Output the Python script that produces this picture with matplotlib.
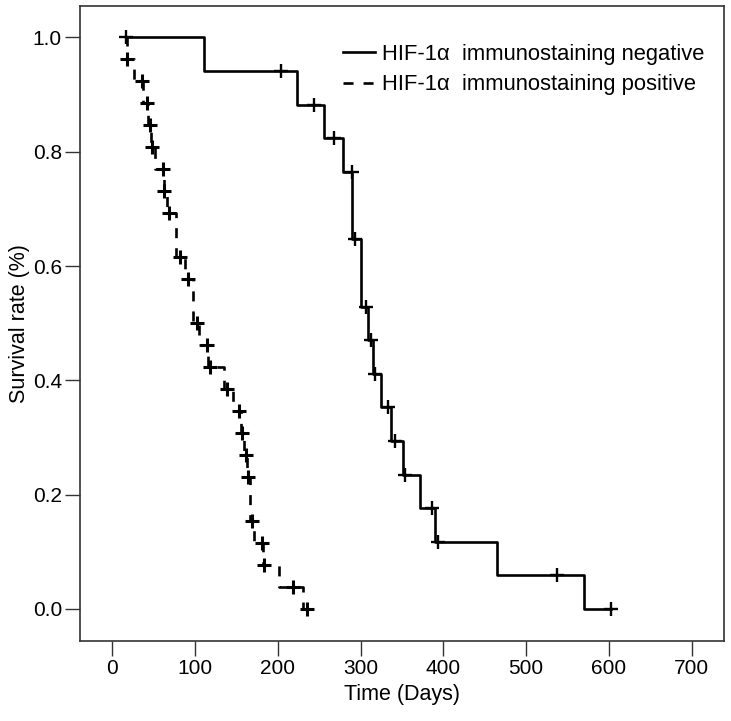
import matplotlib
matplotlib.use("Agg")
import matplotlib.pyplot as plt
import numpy as np

plt.rcParams['font.family'] = ['Liberation Sans', 'DejaVu Sans']

# HIF-1a negative group (solid)
neg_start = 17
neg_drop_t = [111, 223, 256, 279, 290, 301, 309, 315, 325, 337, 351, 372, 390, 465, 570]
neg_drop_s = [0.941, 0.882, 0.824, 0.765, 0.647, 0.529, 0.471, 0.412, 0.353, 0.294,
              0.235, 0.176, 0.118, 0.059, 0.0]
neg_end = 602
neg_cens_t = [17, 204, 244, 268, 289, 293, 307, 312, 317, 333, 341, 354, 386, 394, 537, 602]
neg_cens_s = [1.0, 0.941, 0.882, 0.824, 0.765, 0.647, 0.529, 0.471, 0.412, 0.353,
              0.294, 0.235, 0.176, 0.118, 0.059, 0.0]

# HIF-1a positive group (dashed)
pos_start = 17
pos_drop_t = [17.5, 26, 37.5, 43, 46.5, 52, 62, 66, 76.5, 88, 97.7, 105, 116, 135, 146,
              155, 159, 163, 166, 171, 182, 201, 230]
pos_drop_s = [0.962, 0.923, 0.885, 0.846, 0.808, 0.769, 0.731, 0.692, 0.615, 0.577, 0.5,
              0.462, 0.423, 0.385, 0.346, 0.308, 0.269, 0.231, 0.154, 0.115, 0.077,
              0.038, 0.0]
pos_end = 235
pos_cens_t = [18, 35.5, 41.5, 45.5, 47.6, 61, 62.4, 68.8, 81.8, 91.8, 102, 114, 118, 138,
              153.4, 156.3, 161, 164.3, 168.4, 180.4, 183.2, 218.6, 234.8]
pos_cens_s = [0.962, 0.923, 0.885, 0.846, 0.808, 0.769, 0.731, 0.692, 0.615, 0.577, 0.5,
              0.462, 0.423, 0.385, 0.346, 0.308, 0.269, 0.231, 0.154, 0.115, 0.077,
              0.038, 0.0]

labels = ["HIF-1\u03b1  immunostaining negative", "HIF-1\u03b1  immunostaining positive"]
x_ticks = [0, 100, 200, 300, 400, 500, 600, 700]
y_ticks = [0.0, 0.2, 0.4, 0.6, 0.8, 1.0]

fig = plt.figure(figsize=(7.31, 7.21), dpi=100)
ax = fig.add_axes([80/731, 80/721, 644/731, 635/721])

lw = 1.9
nx = [neg_start] + neg_drop_t + [neg_end]
ny = [1.0] + neg_drop_s + [neg_drop_s[-1]]
ax.step(nx, ny, where='post', color='black', lw=lw, label=labels[0])
px = [pos_start] + pos_drop_t + [pos_end]
py = [1.0] + pos_drop_s + [pos_drop_s[-1]]
ax.step(px, py, where='post', color='black', lw=lw, dashes=(3.8, 3.8), label=labels[1])

ax.plot(neg_cens_t, neg_cens_s, ls='none', marker='+', ms=10, mew=1.7, color='black')
ax.plot(pos_cens_t, pos_cens_s, ls='none', marker='+', ms=10, mew=2.2, color='black')

ax.set_xlim(-39, 739)
ax.set_ylim(-0.056, 1.055)
ax.set_xticks(x_ticks)
ax.set_yticks(y_ticks)
ax.set_yticklabels(["%.1f" % v for v in y_ticks])
ax.tick_params(direction='out', length=11, width=1, color='#333333', labelsize=15, pad=2)
for s in ax.spines.values():
    s.set_color('#333333')
    s.set_linewidth(1.2)

ax.set_xlabel("Time (Days)", fontsize=15.5, labelpad=4)
ax.set_ylabel("Survival rate (%)", fontsize=15.5, labelpad=2)

ax.legend(loc='upper right', bbox_to_anchor=(704/731, 1 - 44/721),
          bbox_transform=fig.transFigure, frameon=False, fontsize=15.8,
          handlelength=1.47, handletextpad=0.3, borderpad=0, borderaxespad=0,
          labelspacing=0.42)

fig.savefig("out.png", dpi=100)
